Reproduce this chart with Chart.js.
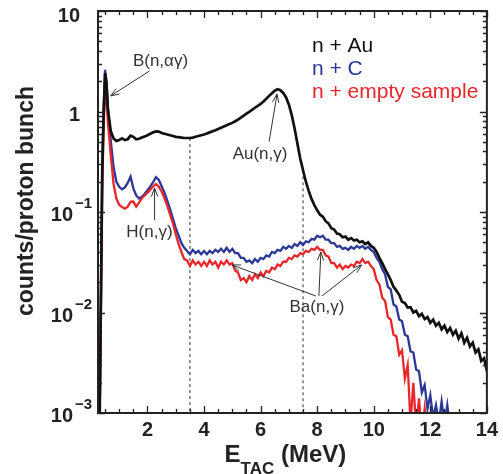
<!DOCTYPE html>
<html><head><meta charset="utf-8">
<script src="https://cdn.jsdelivr.net/npm/chart.js@4.4.1/dist/chart.umd.min.js"></script>
<style>html,body{margin:0;padding:0;background:#fff}canvas{display:block}</style>
</head><body>
<canvas id="c" width="503" height="474"></canvas>
<script>
// ---- data (E_TAC in MeV, counts per proton bunch) ----
const energy = [
  0.30,0.40,0.45,0.50,0.55,0.60,0.70,0.80,0.90,
  1.0,1.1,1.2,1.3,1.4,1.5,1.6,1.7,1.8,1.9,
  2.0,2.1,2.2,2.3,2.4,2.5,2.6,2.7,2.8,2.9,
  3.0,3.1,3.2,3.3,3.4,3.5,3.6,3.7,3.8,3.9,
  4.0,4.1,4.2,4.3,4.4,4.5,4.6,4.7,4.8,4.9,
  5.0,5.1,5.2,5.3,5.4,5.5,5.6,5.7,5.8,5.9,
  6.0,6.1,6.2,6.3,6.4,6.5,6.6,6.7,6.8,6.9,
  7.0,7.1,7.2,7.3,7.4,7.5,7.6,7.7,7.8,7.9,
  8.0,8.1,8.2,8.3,8.4,8.5,8.6,8.7,8.8,8.9,
  9.0,9.1,9.2,9.3,9.4,9.5,9.6,9.7,9.8,9.9,
  10.0,10.1,10.2,10.3,10.4,10.5,10.6,10.7,10.8,10.9,
  11.0,11.1,11.2,11.3,11.4,11.5,11.6,11.7,11.8,11.9,
  12.0,12.1,12.2,12.3,12.4,12.5,12.6,12.7,12.8,12.9,
  13.0,13.1,13.2,13.3,13.4,13.5,13.6,13.7,13.8,13.9,
  14.0
];
const auCounts = [
  0.0005,0.25,0.95,2.4,1.9,1.05,0.64,0.54,0.51,
  0.52,0.54,0.52,0.53,0.575,0.56,0.53,0.535,0.55,0.565,
  0.58,0.60,0.62,0.635,0.63,0.61,0.60,0.59,0.58,0.57,
  0.56,0.555,0.55,0.545,0.545,0.545,0.55,0.56,0.57,0.58,
  0.59,0.605,0.62,0.635,0.65,0.67,0.69,0.71,0.73,0.75,
  0.77,0.80,0.83,0.87,0.91,0.95,0.99,1.04,1.09,1.14,
  1.19,1.26,1.34,1.43,1.52,1.61,1.67,1.63,1.53,1.38,
  1.17,0.92,0.68,0.48,0.34,0.26,0.20,0.162,0.135,0.117,
  0.104,0.094,0.090,0.081,0.077,0.069,0.067,0.061,0.060,0.056,
  0.057,0.053,0.055,0.052,0.053,0.050,0.051,0.048,0.050,0.046,
  0.044,0.040,0.035,0.031,0.027,0.024,0.021,0.018,0.0165,0.0150,
  0.0128,0.0124,0.0112,0.0113,0.0100,0.0104,0.0092,0.0097,0.0086,0.0090,
  0.0079,0.0085,0.0074,0.0079,0.0068,0.0074,0.0064,0.0070,0.0060,0.0066,
  0.0055,0.0062,0.0050,0.0056,0.0046,0.0050,0.0040,0.0043,0.0033,0.0035,
  0.0026
];
const cCounts = [
  0.0005,0.28,1.1,2.6,2.0,1.1,0.52,0.28,0.20,
  0.178,0.168,0.176,0.195,0.225,0.172,0.146,0.136,0.142,0.152,
  0.165,0.18,0.198,0.222,0.208,0.18,0.156,0.13,0.106,0.086,
  0.069,0.058,0.049,0.044,0.041,0.038,0.042,0.039,0.041,0.038,
  0.041,0.038,0.041,0.039,0.042,0.040,0.043,0.040,0.044,0.040,
  0.043,0.039,0.039,0.035,0.035,0.032,0.033,0.031,0.034,0.032,
  0.035,0.034,0.037,0.036,0.040,0.039,0.042,0.041,0.045,0.043,
  0.046,0.044,0.048,0.046,0.050,0.047,0.051,0.050,0.054,0.053,
  0.058,0.056,0.058,0.053,0.053,0.049,0.049,0.045,0.046,0.043,
  0.044,0.042,0.045,0.043,0.046,0.044,0.046,0.043,0.045,0.042,
  0.040,0.035,0.032,0.027,0.024,0.018,0.017,0.012,0.0115,0.0085,
  0.0082,0.0060,0.0058,0.0041,0.0040,0.0027,0.0026,0.0016,0.0019,0.0011,
  0.0015,0.0009,0.0012,0.0008,0.0013,0.0008,0.0012,0.0007,null,null,
  null,null,null,null,null,null,null,null,null,null,
  null
];
const emptyCounts = [
  0.0005,0.18,0.7,1.7,1.4,0.78,0.37,0.19,0.136,
  0.118,0.112,0.108,0.113,0.126,0.127,0.113,0.124,0.137,0.146,
  0.156,0.167,0.18,0.19,0.178,0.16,0.137,0.115,0.094,0.077,
  0.060,0.048,0.040,0.034,0.033,0.029,0.033,0.030,0.032,0.029,
  0.032,0.029,0.033,0.030,0.032,0.028,0.032,0.030,0.033,0.030,
  0.031,0.026,0.025,0.021,0.022,0.020,0.023,0.021,0.024,0.022,
  0.025,0.023,0.026,0.025,0.028,0.027,0.030,0.029,0.032,0.032,
  0.035,0.034,0.037,0.036,0.039,0.038,0.041,0.040,0.043,0.042,
  0.045,0.042,0.042,0.037,0.036,0.031,0.031,0.028,0.030,0.027,
  0.029,0.028,0.030,0.029,0.032,0.031,0.034,0.031,0.032,0.029,
  0.027,0.021,0.019,0.014,0.013,0.0090,0.0085,0.0060,0.0058,0.0038,
  0.0042,0.0022,0.0030,0.0008,0.0020,0.0007,0.0014,0.0006,0.0011,0.0006,
  null,null,null,null,null,null,null,null,null,null,
  null,null,null,null,null,null,null,null,null,null,
  null
];
// dashed cut lines: energy and the count level where each line stops
const cutEnergies = [3.5, 7.5];
const cutTops = [0.545, 0.26];

const seriesNames = ['n + Au', 'n + C', 'n + empty sample'];
const seriesColors = ['#111111', '#2b3797', '#e8272b'];

const yTickValues = [10, 1, 0.1, 0.01, 0.001];
const yTickBase = ['10', '1', '10', '10', '10'];
const yTickExp = ['', '', '\u22121', '\u22122', '\u22123'];

const annotations = [
  {text: 'B(n,\u03b1\u03b3)', x: 2.46, y: 2.84, arrows: [[2.07, 2.53, 0.70, 1.43]]},
  {text: 'H(n,\u03b3)', x: 2.07, y: 0.0564, arrows: [[2.25, 0.083, 2.25, 0.173]]},
  {text: 'Au(n,\u03b3)', x: 5.98, y: 0.336, arrows: [[6.30, 0.50, 6.58, 1.49]]},
  {text: 'Ba(n,\u03b3)', x: 7.99, y: 0.0101, arrows: [[7.95, 0.0146, 4.99, 0.0297], [8.06, 0.0146, 8.13, 0.040], [8.17, 0.0146, 9.57, 0.0297]]}
];

// ---- chart ----
const FONT = '"Liberation Sans", Arial, Helvetica, sans-serif';
const pts = vals => energy.map((e, i) => ({x: e, y: vals[i]}));

function arrow(ctx, x0, y0, x1, y1) {
  const ang = Math.atan2(y1 - y0, x1 - x0);
  const L = 9, w = 0.36;
  ctx.beginPath();
  ctx.moveTo(x0, y0); ctx.lineTo(x1, y1);
  ctx.moveTo(x1 - L * Math.cos(ang - w), y1 - L * Math.sin(ang - w));
  ctx.lineTo(x1, y1);
  ctx.lineTo(x1 - L * Math.cos(ang + w), y1 - L * Math.sin(ang + w));
  ctx.stroke();
}

const decor = {
  id: 'decor',
  afterDatasetsDraw(chart) {
    const {ctx, chartArea: a, scales: {x, y}} = chart;
    ctx.save();
    // annotations
    ctx.strokeStyle = '#333'; ctx.lineWidth = 1; ctx.fillStyle = '#333';
    ctx.font = '17px ' + FONT; ctx.textAlign = 'center'; ctx.textBaseline = 'alphabetic';
    annotations.forEach(an => {
      ctx.fillText(an.text, x.getPixelForValue(an.x), y.getPixelForValue(an.y));
      an.arrows.forEach(r => arrow(ctx, x.getPixelForValue(r[0]), y.getPixelForValue(r[1]),
                                   x.getPixelForValue(r[2]), y.getPixelForValue(r[3])));
    });
    // legend (text only)
    ctx.font = '21px ' + FONT; ctx.textAlign = 'left';
    seriesNames.forEach((n, i) => {
      ctx.fillStyle = seriesColors[i];
      ctx.fillText(n, a.left + 214, a.top + 41 + i * 23);
    });
    // ticks (inward) on all four sides
    ctx.strokeStyle = '#222'; ctx.lineWidth = 1.3;
    ctx.beginPath();
    for (let v = Math.ceil(x.min * 2) / 2; v <= x.max + 1e-9; v += 0.5) {
      const px = Math.round(x.getPixelForValue(v)) + 0.5;
      const len = Math.abs(v / 2 - Math.round(v / 2)) < 1e-6 ? 7 : 4;
      ctx.moveTo(px, a.bottom); ctx.lineTo(px, a.bottom - len);
      ctx.moveTo(px, a.top); ctx.lineTo(px, a.top + len);
    }
    for (let d = 0.001; d < 10.5; d *= 10) {
      for (let k = 1; k <= 9; k++) {
        const v = d * k;
        if (v > y.max * 1.0001) break;
        const py = Math.round(y.getPixelForValue(v)) + 0.5;
        const len = k === 1 ? 7 : 4;
        ctx.moveTo(a.left, py); ctx.lineTo(a.left + len, py);
        ctx.moveTo(a.right, py); ctx.lineTo(a.right - len, py);
      }
    }
    ctx.stroke();
    // frame
    ctx.lineWidth = 2; ctx.strokeStyle = '#222';
    ctx.strokeRect(a.left, a.top, a.width, a.height);
    ctx.restore();
  },
  afterDraw(chart) {
    const {ctx, chartArea: a, scales: {y}} = chart;
    ctx.save();
    ctx.fillStyle = '#222'; ctx.textBaseline = 'alphabetic';
    // y tick labels with superscript exponents
    yTickValues.forEach((v, i) => {
      const py = Math.max(y.getPixelForValue(v) + 9, a.top + 11);
      ctx.font = 'bold 20px ' + FONT;
      if (yTickExp[i]) {
        ctx.textAlign = 'right';
        ctx.fillText(yTickBase[i], a.left - 25, py);
        ctx.font = 'bold 15px ' + FONT; ctx.textAlign = 'left';
        ctx.fillText(yTickExp[i], a.left - 23, py - 13);
      } else {
        ctx.textAlign = 'right';
        ctx.fillText(yTickBase[i], a.left - 18, py);
      }
    });
    // y title
    ctx.save();
    ctx.translate(33, (a.top + a.bottom) / 2 - 11);
    ctx.rotate(-Math.PI / 2);
    ctx.font = 'bold 23px ' + FONT; ctx.textAlign = 'center';
    ctx.fillText('counts/proton bunch', 0, 0);
    ctx.restore();
    // x title  E_TAC (MeV)
    const big = 'bold 24px ' + FONT, small = 'bold 17px ' + FONT;
    ctx.font = big; const wE = ctx.measureText('E').width;
    const wM = ctx.measureText(' (MeV)').width;
    ctx.font = small; const wT = ctx.measureText('TAC').width;
    let x0 = (a.left + a.right) / 2 - 7 - (wE + wT + wM) / 2;
    const base = 462;
    ctx.textAlign = 'left';
    ctx.font = big; ctx.fillText('E', x0, base); x0 += wE;
    ctx.font = small; ctx.fillText('TAC', x0, base + 12); x0 += wT;
    ctx.font = big; ctx.fillText(' (MeV)', x0, base);
    ctx.restore();
  }
};

const lineDs = (label, vals, color, w) => ({
  label, data: pts(vals), borderColor: color, borderWidth: w,
  pointRadius: 0, tension: 0, fill: false, spanGaps: false
});

new Chart(document.getElementById('c'), {
  type: 'line',
  data: {
    datasets: [
      lineDs(seriesNames[0], auCounts, seriesColors[0], 2.7),
      lineDs(seriesNames[2], emptyCounts, seriesColors[2], 2.3),
      lineDs(seriesNames[1], cCounts, seriesColors[1], 2.3),
      ...cutEnergies.map((e, i) => ({
        label: 'cut' + i, data: [{x: e, y: cutTops[i]}, {x: e, y: 0.001}],
        borderColor: '#333', borderWidth: 1, borderDash: [3, 3], pointRadius: 0
      }))
    ]
  },
  options: {
    responsive: false, animation: false, devicePixelRatio: 1,
    layout: {padding: {left: 0, right: 15, top: 11, bottom: 0}},
    plugins: {legend: {display: false}, tooltip: {enabled: false}},
    scales: {
      x: {
        type: 'linear', min: 0.25, max: 14,
        grid: {display: false, drawTicks: false}, border: {display: false},
        ticks: {stepSize: 2, includeBounds: false, autoSkip: false, maxRotation: 0,
                padding: 5, color: '#222', font: {family: FONT, size: 20, weight: 'bold'}},
        afterFit: s => { s.height = 61; }
      },
      y: {
        type: 'logarithmic', min: 0.001, max: 10,
        grid: {display: false, drawTicks: false}, border: {display: false},
        ticks: {display: false},
        afterFit: s => { s.height; s.width = 98; }
      }
    }
  },
  plugins: [decor]
});
</script>
</body></html>
